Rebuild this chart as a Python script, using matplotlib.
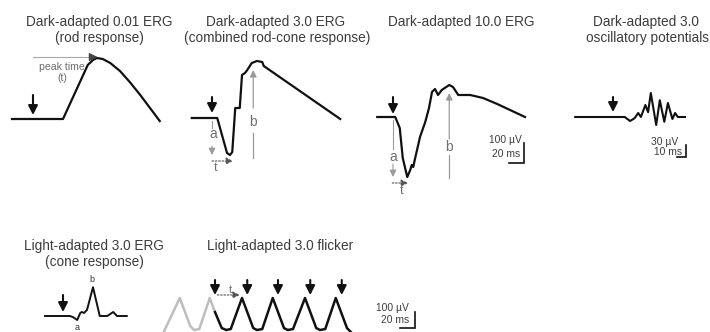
import matplotlib.pyplot as plt

plt.rcParams['font.family'] = ['Liberation Sans', 'DejaVu Sans']

W, H = 710, 332

# waveform vertices: time in ms after the flash, amplitude in µV
rod_t = [-28, 40, 73, 80, 85, 93, 103, 116, 129, 143, 156, 169]
rod_uv = [0, 0, 270, 295, 305, 300, 280, 240, 185, 120, 55, -10]

mixed_t = [-27, 7, 20, 24, 27, 31, 37, 40, 44, 47, 53, 60, 67, 69, 171]
mixed_uv = [0, 0, -175, -185, -170, 50, 50, 215, 225, 240, 275, 285, 280, 260, -5]

bright_t = [-21, 3, 9, 13, 19, 23, 25, 27, 29, 36, 43, 48, 52, 56, 60, 65,
            75, 80, 87, 103, 120, 139, 176]
bright_uv = [0, 0, -55, -205, -300, -265, -240, -250, -215, -100, -25, 45,
             125, 140, 110, 135, 160, 150, 110, 110, 95, 65, 0]

op_t = [-42, 13, 19, 24, 28, 31, 36, 39, 42, 48, 52, 57, 61, 66, 69, 72, 80]
op_uv = [0, 0, -10, -3, 10, 0, 30, 12, 60, -20, 42, -12, 35, -5, 10, 0, 0]

cone_t = [-24, 9, 13, 19, 23, 25, 28, 32, 40, 49, 59, 67, 72, 85]
cone_uv = [0, 0, -6, -25, 19, 25, 19, 38, 180, 0, 0, 25, 0, 0]

flick_pre_t = [-69, -47, -33, -28, -21, -7, 0]
flick_pre_uv = [-19, 200, 25, 0, 6, 200, 112]
flick_t = [0, 9, 15, 21, 36, 51, 56, 63, 77, 92, 97, 104, 120, 135, 140, 147,
           161, 176, 181]
flick_uv = [112, 12, 0, 6, 200, 12, 0, 6, 200, 12, 0, 6, 200, 12, 0, 6,
            200, 12, -12]
flick_flash_t = [0, 43, 84, 127, 169]

TRACE = '#111111'
GUIDE = '#9a9a9a'
LABEL = '#6e6e6e'
TITLE = '#3c3c3c'

fig = plt.figure(figsize=(W / 100, H / 100), dpi=100)


def panel(ox, oy, sx, sy):
    # transparent full-figure axes, flash onset on the baseline sits at pixel (ox, oy)
    ax = fig.add_axes([0, 0, 1, 1])
    ax.set_xlim(-ox * sx, (W - ox) * sx)
    ax.set_ylim((oy - H) * sy, oy * sy)
    ax.axis('off')
    ax.patch.set_alpha(0)
    return ax


def flash(ax, t, sy, tip, length):
    ax.annotate('', xy=(t, tip * sy), xytext=(t, (tip + length) * sy),
                arrowprops=dict(arrowstyle='-|>,head_length=0.55,head_width=0.28',
                                color=TRACE, lw=1.5, shrinkA=0, shrinkB=0),
                annotation_clip=False)


def guide_arrow(ax, p0, p1, color=GUIDE, ls='-', lw=0.8, hl=0.4, hw=0.2):
    ax.annotate('', xy=p1, xytext=p0,
                arrowprops=dict(arrowstyle=f'-|>,head_length={hl},head_width={hw}',
                                color=color, lw=lw, ls=ls, shrinkA=0, shrinkB=0),
                annotation_clip=False)


def scale_bar(ax, t, v, dt, dv, lw=1.2):
    ax.plot([t - dt, t, t], [v, v, v + dv], color=TRACE, lw=lw,
            solid_joinstyle='miter', clip_on=False)


def title(x, y, s):
    fig.text(x / W, 1 - y / H, s, ha='center', va='center', fontsize=9.8, color=TITLE)


# Dark-adapted 0.01 (rod)
ax = panel(33, 119, 4 / 3, 5)
ax.plot(rod_t, rod_uv, color=TRACE, lw=1.6, solid_joinstyle='round', clip_on=False)
flash(ax, 0, 5, 4, 20)
ax.plot([0, 82], [310, 310], color='#aaaaaa', lw=0.8)
guide_arrow(ax, (78, 310), (86, 310), color='#444444', hl=0.5, hw=0.25)
ax.text(39, 260, 'peak time', ha='center', va='center', fontsize=7.6, color=LABEL)
ax.text(39, 205, '(t)', ha='center', va='center', fontsize=7.6, color=LABEL)
title(99, 22, 'Dark-adapted 0.01 ERG')
title(99, 38, '(rod response)')

# Dark-adapted 3.0 (mixed)
ax = panel(212, 118, 4 / 3, 5)
ax.plot(mixed_t, mixed_uv, color=TRACE, lw=1.6, solid_joinstyle='round', clip_on=False)
flash(ax, 0, 5, 5, 16)
ax.plot([0, 0], [-15, -50], color=GUIDE, lw=0.8)
ax.text(1, -80, 'a', ha='center', va='center', fontsize=10, color=LABEL)
guide_arrow(ax, (0, -140), (0, -185))
guide_arrow(ax, (0, -215), (28, -215), color='#555555', ls=(0, (1.5, 1.5)))
ax.text(5, -250, 't', ha='center', va='center', fontsize=9, color=LABEL)
ax.plot([55, 55], [-200, -75], color=GUIDE, lw=0.9)
guide_arrow(ax, (55, 50), (55, 240), lw=0.9)
ax.text(55, -20, 'b', ha='center', va='center', fontsize=10, color=LABEL)
title(276, 22, 'Dark-adapted 3.0 ERG')
title(277, 38, '(combined rod-cone response)')

# Dark-adapted 10.0
ax = panel(393, 117, 4 / 3, 5)
ax.plot(bright_t, bright_uv, color=TRACE, lw=1.6, solid_joinstyle='round', clip_on=False)
flash(ax, 0, 5, 3, 17)
ax.plot([0, 0], [-15, -160], color=GUIDE, lw=0.8)
ax.text(0, -200, 'a', ha='center', va='center', fontsize=10, color=LABEL)
guide_arrow(ax, (0, -235), (0, -300))
guide_arrow(ax, (-1, -330), (20, -330), color='#555555', ls=(0, (1.5, 1.5)))
ax.text(11, -370, 't', ha='center', va='center', fontsize=9, color=LABEL)
ax.plot([75, 75], [-305, -190], color=GUIDE, lw=0.9)
guide_arrow(ax, (75, -110), (75, 120), lw=0.9)
ax.text(75, -150, 'b', ha='center', va='center', fontsize=10, color=LABEL)
scale_bar(ax, 175, -230, 20, 100)
ax.text(172, -115, '100 µV', ha='right', va='center', fontsize=7.4, color=TITLE)
ax.text(169, -185, '20 ms', ha='right', va='center', fontsize=7.4, color=TITLE)
title(461, 22, 'Dark-adapted 10.0 ERG')

# Dark-adapted 3.0 oscillatory potentials
ax = panel(613, 117, 10 / 9, 2.5)
ax.plot(op_t, op_uv, color=TRACE, lw=1.5, solid_joinstyle='round', clip_on=False)
flash(ax, 0, 2.5, 5, 15)
scale_bar(ax, 81, -100, 10, 30)
ax.text(72, -62, '30 µV', ha='right', va='center', fontsize=7.4, color=TITLE)
ax.text(77, -88, '10 ms', ha='right', va='center', fontsize=7.4, color=TITLE)
title(646, 22, 'Dark-adapted 3.0')
title(647, 38, 'oscillatory potentials')

# Light-adapted 3.0 (cone)
ax = panel(63, 316, 4 / 3, 6.25)
ax.plot(cone_t, cone_uv, color=TRACE, lw=1.4, solid_joinstyle='round', clip_on=False)
flash(ax, 0, 6.25, 4, 17)
ax.text(39, 225, 'b', ha='center', va='center', fontsize=6.5, color='#333333')
ax.text(19, -75, 'a', ha='center', va='center', fontsize=6.5, color='#333333')
title(94, 246, 'Light-adapted 3.0 ERG')
title(94, 262, '(cone response)')

# Light-adapted 3.0 flicker
ax = panel(215, 330, 4 / 3, 6.25)
ax.plot(flick_pre_t, flick_pre_uv, color='#bdbdbd', lw=1.8, clip_on=False)
ax.plot(flick_t, flick_uv, color=TRACE, lw=1.8, solid_joinstyle='round', clip_on=False)
for ft in flick_flash_t:
    flash(ax, ft, 6.25, 35, 15)
guide_arrow(ax, (3, 219), (33, 219), color='#555555', ls=(0, (1.5, 1.5)))
ax.text(20, 250, 't', ha='center', va='center', fontsize=8, color=LABEL)
scale_bar(ax, 267, 12, 20, 100)
ax.text(259, 138, '100 µV', ha='right', va='center', fontsize=7.4, color=TITLE)
ax.text(259, 62, '20 ms', ha='right', va='center', fontsize=7.4, color=TITLE)
title(280, 246, 'Light-adapted 3.0 flicker')

fig.savefig('out.png', dpi=100)
